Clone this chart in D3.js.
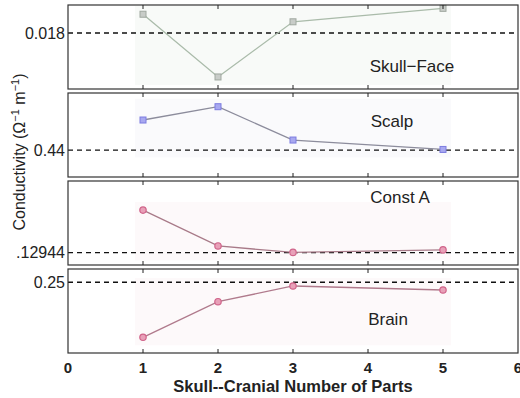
<!DOCTYPE html>
<html>
<head>
<meta charset="utf-8">
<script src="https://cdn.jsdelivr.net/npm/d3@7"></script>
<style>
  body { margin: 0; background: #fff; }
  text { font-family: "Liberation Sans", Arial, sans-serif; fill: #222; }
</style>
</head>
<body>
<svg id="chart" width="520" height="398"></svg>
<script>
// Number of skull/cranial parts in each model
const parts = [1, 2, 3, 5];

// Conductivity estimates per tissue
const skullFace = [0.01867, 0.01643, 0.0184, 0.01888];
const scalp     = [0.4848, 0.5046, 0.455, 0.441];
const constA    = [0.1446, 0.1318, 0.1295, 0.1304];
const brain     = [0.1255, 0.206, 0.2416, 0.2325];

// Reference (true) values drawn as dashed lines
const refValues = [0.018, 0.44, 0.12944, 0.25];
const refLabels = ["0.018", "0.44", ".12944", "0.25"];
const panelNames = ["Skull\u2212Face", "Scalp", "Const A", "Brain"];
const xTicks = [0, 1, 2, 3, 4, 5, 6];

const svg = d3.select("#chart");
const left = 68, right = 518;
const x = d3.scaleLinear().domain([0, 6]).range([left, right]);

const panels = [
  { name: panelNames[0], values: skullFace, ref: refValues[0], refLabel: refLabels[0],
    domain: [0.016, 0.019], top: 5, line: "#aabbaa", mark: "square", markColor: "#a0a8a0", markFill: "#c8ccc8",
    label: [412, 72], tint: "#f8faf8" },
  { name: panelNames[1], values: scalp, ref: refValues[1], refLabel: refLabels[1],
    domain: [0.40, 0.525], top: 93, line: "#8c8c9c", mark: "square", markColor: "#7c7ce0", markFill: "#a8a8f0",
    label: [392, 127], tint: "#fafafc" },
  { name: panelNames[2], values: constA, ref: refValues[2], refLabel: refLabels[2],
    domain: [0.125, 0.155], top: 181, line: "#a87a88", mark: "circle", markColor: "#d0648a", markFill: "#e8a0b8",
    label: [400, 203], tint: "#fdf9fa" },
  { name: panelNames[3], values: brain, ref: refValues[3], refLabel: refLabels[3],
    domain: [0.09, 0.28], top: 269, line: "#b07a8c", mark: "circle", markColor: "#d0648a", markFill: "#e8a0b8",
    label: [388, 325], tint: "#fdf9fa" }
];
const panelH = 84;

panels.forEach(p => {
  const y = d3.scaleLinear().domain(p.domain).range([p.top + panelH, p.top]);
  const g = svg.append("g");

  // soft shading behind the curve
  const ys = p.values.map(v => y(v));
  const y0 = Math.max(p.top + 1, d3.min(ys) - 8);
  const y1 = Math.min(p.top + panelH - 1, d3.max(ys) + 8);
  g.append("rect")
    .attr("x", x(parts[0]) - 8).attr("width", x(parts[parts.length - 1]) - x(parts[0]) + 16)
    .attr("y", y0).attr("height", y1 - y0)
    .attr("fill", p.tint);

  // reference value
  g.append("line")
    .attr("x1", left).attr("x2", right)
    .attr("y1", y(p.ref)).attr("y2", y(p.ref))
    .attr("stroke", "#111").attr("stroke-width", 1.3)
    .attr("stroke-dasharray", "5,4");

  g.append("text")
    .attr("x", left - 3).attr("y", y(p.ref))
    .attr("dy", "0.35em").attr("text-anchor", "end")
    .attr("font-size", 16).text(p.refLabel);

  // estimate curve
  const line = d3.line().x((d, i) => x(parts[i])).y(d => y(d));
  g.append("path").datum(p.values)
    .attr("d", line).attr("fill", "none")
    .attr("stroke", p.line).attr("stroke-width", 1.3);

  if (p.mark === "square") {
    g.selectAll("rect.m").data(p.values).join("rect").attr("class", "m")
      .attr("x", (d, i) => x(parts[i]) - 3).attr("y", d => y(d) - 3)
      .attr("width", 6).attr("height", 6)
      .attr("fill", p.markFill).attr("stroke", p.markColor).attr("stroke-width", 1);
  } else {
    g.selectAll("circle.m").data(p.values).join("circle").attr("class", "m")
      .attr("cx", (d, i) => x(parts[i])).attr("cy", d => y(d))
      .attr("r", 3.2)
      .attr("fill", p.markFill).attr("stroke", p.markColor).attr("stroke-width", 1.2);
  }

  // frame
  g.append("rect")
    .attr("x", left).attr("y", p.top)
    .attr("width", right - left).attr("height", panelH)
    .attr("fill", "none").attr("stroke", "#333").attr("stroke-width", 1.2);

  // inward ticks on top and bottom
  const inner = xTicks.slice(1, -1);
  g.selectAll("line.tb").data(inner).join("line").attr("class", "tb")
    .attr("x1", d => x(d)).attr("x2", d => x(d))
    .attr("y1", p.top + panelH).attr("y2", p.top + panelH - 4)
    .attr("stroke", "#222").attr("stroke-width", 1);
  g.selectAll("line.tt").data(inner).join("line").attr("class", "tt")
    .attr("x1", d => x(d)).attr("x2", d => x(d))
    .attr("y1", p.top).attr("y2", p.top + 4)
    .attr("stroke", "#222").attr("stroke-width", 1);

  g.append("text")
    .attr("x", p.label[0]).attr("y", p.label[1])
    .attr("text-anchor", "middle").attr("font-size", 17)
    .attr("fill", "#333").text(p.name);
});

// shared x axis labels
svg.append("g").selectAll("text").data(xTicks).join("text")
  .attr("x", d => x(d)).attr("y", 373)
  .attr("text-anchor", "middle").attr("font-size", 15).attr("font-weight", "bold")
  .text(d => d);

svg.append("text")
  .attr("x", x(3)).attr("y", 392)
  .attr("text-anchor", "middle").attr("font-size", 16.5).attr("font-weight", "bold")
  .text("Skull--Cranial Number of Parts");

// y axis title
const yt = svg.append("text")
  .attr("transform", "translate(25,152) rotate(-90)")
  .attr("text-anchor", "middle").attr("font-size", 16);
yt.append("tspan").text("Conductivity (\u03A9");
yt.append("tspan").attr("dy", -6).attr("font-size", 11).text("\u22121");
yt.append("tspan").attr("dy", 6).text(" m");
yt.append("tspan").attr("dy", -6).attr("font-size", 11).text("\u22121");
yt.append("tspan").attr("dy", 6).text(")");
</script>
</body>
</html>
